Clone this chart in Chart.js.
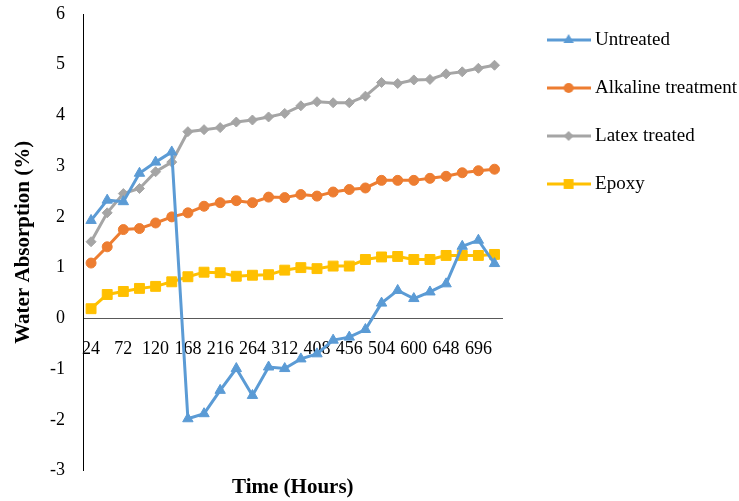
<!DOCTYPE html>
<html>
<head>
<meta charset="utf-8">
<script src="https://cdn.jsdelivr.net/npm/chart.js@4/dist/chart.umd.min.js"></script>
<style>
html,body{margin:0;padding:0;background:#ffffff;}
#wrap{width:739px;height:501px;}
</style>
</head>
<body>
<div id="wrap"><canvas id="c" width="739" height="501"></canvas></div>
<script>
// ---- data ----
const hours = ['24','48','72','96','120','144','168','192','216','240','264','288','312','336',
               '408','432','456','480','504','528','600','624','648','672','696','720'];
const untreated = [1.93,2.33,2.30,2.86,3.08,3.28,-1.98,-1.88,-1.42,-0.99,-1.52,-0.96,-0.99,-0.80,
                   -0.70,-0.43,-0.37,-0.22,0.30,0.55,0.39,0.52,0.68,1.42,1.54,1.08];
const alkaline = [1.09,1.41,1.75,1.77,1.88,2.00,2.08,2.21,2.28,2.32,2.28,2.39,2.38,2.44,
                  2.41,2.49,2.54,2.57,2.72,2.72,2.72,2.76,2.80,2.87,2.91,2.94];
const latex = [1.51,2.08,2.46,2.56,2.89,3.08,3.68,3.72,3.76,3.87,3.91,3.97,4.04,4.19,
               4.27,4.25,4.25,4.38,4.65,4.63,4.70,4.71,4.82,4.86,4.93,4.99];
const epoxy = [0.19,0.47,0.53,0.59,0.63,0.72,0.82,0.91,0.90,0.83,0.85,0.86,0.95,1.00,
               0.98,1.03,1.03,1.16,1.21,1.22,1.16,1.16,1.24,1.24,1.24,1.26];
const seriesNames = ['Untreated','Alkaline treatment','Latex treated','Epoxy'];
const yMin = -3, yMax = 6, yStep = 1;
const xTitle = 'Time (Hours)';
const yTitle = 'Water Absorption (%)';

// ---- styles ----
const colors = ['#5B9BD5','#ED7D31','#A5A5A5','#FFC000'];
const styles = ['triangle','circle','rectRot','rect'];
const radii = [6,5,5,7];

function drawMarker(g, style, x, y, r) {
  g.beginPath();
  if (style === 'triangle') {
    g.moveTo(x, y - r);
    g.lineTo(x + r * Math.sin(2 * Math.PI / 3), y - r * Math.cos(2 * Math.PI / 3));
    g.lineTo(x - r * Math.sin(2 * Math.PI / 3), y - r * Math.cos(2 * Math.PI / 3));
    g.closePath();
  } else if (style === 'circle') {
    g.arc(x, y, r, 0, Math.PI * 2);
  } else if (style === 'rectRot') {
    g.moveTo(x, y - r); g.lineTo(x + r, y); g.lineTo(x, y + r); g.lineTo(x - r, y); g.closePath();
  } else {
    const s = Math.SQRT1_2 * r;
    g.rect(x - s, y - s, 2 * s, 2 * s);
  }
  g.fill();
}
function legendImg(color, style, r) {
  const c = document.createElement('canvas');
  c.width = 44; c.height = 16;
  const g = c.getContext('2d');
  g.strokeStyle = color; g.lineWidth = 3;
  g.beginPath(); g.moveTo(0, 8); g.lineTo(44, 8); g.stroke();
  g.fillStyle = color;
  drawMarker(g, style, 22, 8, r);
  return c;
}
const legendImages = colors.map((c, i) => legendImg(c, styles[i], radii[i]));

const serif = "'Liberation Serif', 'Times New Roman', serif";
Chart.defaults.font.family = serif;
Chart.defaults.color = '#000000';

const allSeries = [untreated, alkaline, latex, epoxy];
const datasets = allSeries.map((vals, i) => ({
  label: seriesNames[i],
  data: vals,
  borderColor: colors[i],
  backgroundColor: colors[i],
  borderWidth: 3,
  tension: 0,
  pointStyle: styles[i],
  pointRadius: radii[i],
  pointHoverRadius: radii[i],
  pointBorderWidth: 1,
  pointBorderColor: colors[i],
  pointBackgroundColor: colors[i],
  yAxisID: 'y'
}));

new Chart(document.getElementById('c'), {
  type: 'line',
  data: { labels: hours, datasets: datasets },
  options: {
    responsive: false,
    animation: false,
    devicePixelRatio: 1,
    events: [],
    layout: { padding: { left: 11, top: 1.5, right: -8, bottom: 0 } },
    scales: {
      x: {
        type: 'category',
        offset: true,
        position: { y: 0 },
        grid: { display: false, drawTicks: false },
        border: { display: true, color: '#595959', width: 1 },
        ticks: {
          autoSkip: false, maxRotation: 0, minRotation: 0, padding: 20,
          font: { size: 18, family: serif }, color: '#000000',
          callback: function (val, idx) { return idx % 2 === 0 ? this.getLabelForValue(val) : ''; }
        }
      },
      y: {
        type: 'linear',
        position: 'left',
        min: yMin, max: yMax,
        grid: { display: true, drawOnChartArea: false, drawTicks: true, tickLength: 18,
                tickColor: 'rgba(0,0,0,0)', color: 'rgba(0,0,0,0)' },
        border: { display: true, color: '#000000', width: 1 },
        ticks: { stepSize: yStep, padding: 0, font: { size: 18, family: serif }, color: '#000000' },
        title: { display: true, text: yTitle, padding: 0, color: '#000000',
                 font: { size: 21, weight: 'bold', family: serif } },
        afterFit: function (s) { s.width = 72; }
      },
      yR: {
        type: 'linear',
        position: 'right',
        display: true,
        grid: { display: false, drawTicks: false },
        border: { display: false },
        ticks: { display: false, padding: 0 },
        afterFit: function (s) { s.width = 20; }
      }
    },
    plugins: {
      tooltip: { enabled: false },
      legend: {
        position: 'right',
        align: 'start',
        maxWidth: 320,
        labels: {
          usePointStyle: true,
          pointStyleWidth: 34,
          padding: 29,
          color: '#000000',
          font: { size: 19, family: serif },
          generateLabels: function (chart) {
            const items = Chart.defaults.plugins.legend.labels.generateLabels(chart);
            items.forEach((it, i) => { it.pointStyle = legendImages[i]; });
            return items;
          }
        }
      },
      title: {
        display: true,
        text: xTitle,
        position: 'bottom',
        fullSize: false,
        color: '#000000',
        padding: { top: 4, bottom: 1.3 },
        font: { size: 21, weight: 'bold', family: serif }
      },
      subtitle: {
        display: true,
        text: '',
        position: 'top',
        fullSize: false,
        padding: { top: 11.5, bottom: 0 },
        font: { size: 1, lineHeight: 1 }
      }
    }
  }
});
</script>
</body>
</html>
